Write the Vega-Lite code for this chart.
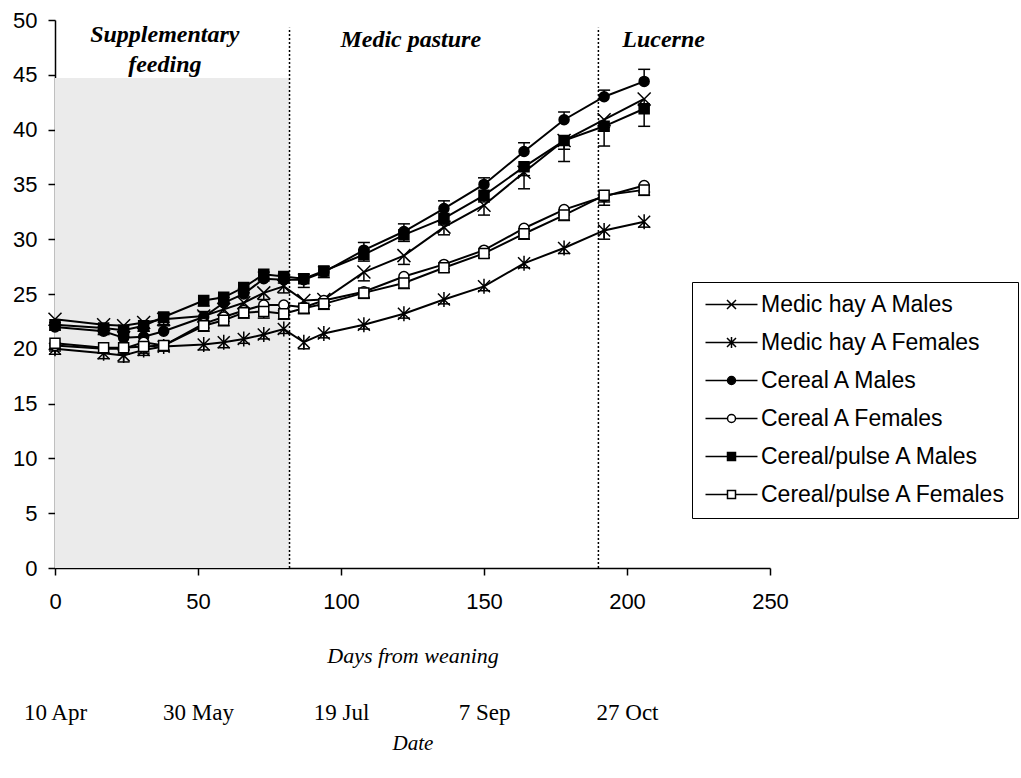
{
  "$schema": "https://vega.github.io/schema/vega-lite/v6.json",
  "width": 715,
  "height": 548,
  "autosize": "none",
  "padding": {"left": 55, "top": 20, "right": 251, "bottom": 210},
  "background": "white",
  "config": {
    "view": {"stroke": null},
    "axis": {"grid": false, "domainColor": "black", "tickColor": "black", "labelColor": "black", "titleColor": "black", "domainWidth": 1.5, "tickWidth": 1.5, "labelFont": "Liberation Sans", "labelFontSize": 22}
  },
  "datasets": {
    "w": [
      {"series": "Medic hay A Males", "day": 0, "weight": 22.7, "errEnd": 22.2},
      {"series": "Medic hay A Males", "day": 17, "weight": 22.2, "errEnd": 21.7},
      {"series": "Medic hay A Males", "day": 24, "weight": 22.1, "errEnd": 21.5},
      {"series": "Medic hay A Males", "day": 31, "weight": 22.4, "errEnd": 21.9},
      {"series": "Medic hay A Males", "day": 38, "weight": 22.7, "errEnd": 22.2},
      {"series": "Medic hay A Males", "day": 52, "weight": 23.0, "errEnd": 22.5},
      {"series": "Medic hay A Males", "day": 59, "weight": 23.6, "errEnd": 23.1},
      {"series": "Medic hay A Males", "day": 66, "weight": 24.2, "errEnd": 23.7},
      {"series": "Medic hay A Males", "day": 73, "weight": 25.1, "errEnd": 24.5},
      {"series": "Medic hay A Males", "day": 80, "weight": 25.7, "errEnd": 25.1},
      {"series": "Medic hay A Males", "day": 87, "weight": 24.4, "errEnd": 23.8},
      {"series": "Medic hay A Males", "day": 94, "weight": 24.5, "errEnd": 23.9},
      {"series": "Medic hay A Males", "day": 108, "weight": 27.0, "errEnd": 26.2},
      {"series": "Medic hay A Males", "day": 122, "weight": 28.5, "errEnd": 27.7},
      {"series": "Medic hay A Males", "day": 136, "weight": 31.1, "errEnd": 30.4},
      {"series": "Medic hay A Males", "day": 150, "weight": 33.1, "errEnd": 32.2},
      {"series": "Medic hay A Males", "day": 164, "weight": 36.1, "errEnd": 34.6},
      {"series": "Medic hay A Males", "day": 178, "weight": 39.0, "errEnd": 38.2},
      {"series": "Medic hay A Males", "day": 192, "weight": 40.9, "errEnd": 40.2},
      {"series": "Medic hay A Males", "day": 206, "weight": 42.8, "errEnd": 42.2},
      {"series": "Medic hay A Females", "day": 0, "weight": 20.0, "errEnd": 19.5},
      {"series": "Medic hay A Females", "day": 17, "weight": 19.6, "errEnd": 19.1},
      {"series": "Medic hay A Females", "day": 24, "weight": 19.4, "errEnd": 18.8},
      {"series": "Medic hay A Females", "day": 31, "weight": 19.9, "errEnd": 19.4},
      {"series": "Medic hay A Females", "day": 38, "weight": 20.2, "errEnd": 19.8},
      {"series": "Medic hay A Females", "day": 52, "weight": 20.4, "errEnd": 19.9},
      {"series": "Medic hay A Females", "day": 59, "weight": 20.6, "errEnd": 20.1},
      {"series": "Medic hay A Females", "day": 66, "weight": 20.9, "errEnd": 20.5},
      {"series": "Medic hay A Females", "day": 73, "weight": 21.3, "errEnd": 20.9},
      {"series": "Medic hay A Females", "day": 80, "weight": 21.8, "errEnd": 21.4},
      {"series": "Medic hay A Females", "day": 87, "weight": 20.6, "errEnd": 20.0},
      {"series": "Medic hay A Females", "day": 94, "weight": 21.4, "errEnd": 21.0},
      {"series": "Medic hay A Females", "day": 108, "weight": 22.2, "errEnd": 21.8},
      {"series": "Medic hay A Females", "day": 122, "weight": 23.2, "errEnd": 22.8},
      {"series": "Medic hay A Females", "day": 136, "weight": 24.5, "errEnd": 24.1},
      {"series": "Medic hay A Females", "day": 150, "weight": 25.7, "errEnd": 25.3},
      {"series": "Medic hay A Females", "day": 164, "weight": 27.8, "errEnd": 27.4},
      {"series": "Medic hay A Females", "day": 178, "weight": 29.2, "errEnd": 28.7},
      {"series": "Medic hay A Females", "day": 192, "weight": 30.8, "errEnd": 30.0},
      {"series": "Medic hay A Females", "day": 206, "weight": 31.6, "errEnd": 31.1},
      {"series": "Cereal A Males", "day": 0, "weight": 22.0, "errEnd": 22.4},
      {"series": "Cereal A Males", "day": 17, "weight": 21.6, "errEnd": 22.0},
      {"series": "Cereal A Males", "day": 24, "weight": 21.0, "errEnd": 21.5},
      {"series": "Cereal A Males", "day": 31, "weight": 21.1, "errEnd": 21.6},
      {"series": "Cereal A Males", "day": 38, "weight": 21.6, "errEnd": 22.1},
      {"series": "Cereal A Males", "day": 52, "weight": 22.9, "errEnd": 23.4},
      {"series": "Cereal A Males", "day": 59, "weight": 24.2, "errEnd": 24.7},
      {"series": "Cereal A Males", "day": 66, "weight": 25.0, "errEnd": 25.5},
      {"series": "Cereal A Males", "day": 73, "weight": 26.4, "errEnd": 27.0},
      {"series": "Cereal A Males", "day": 80, "weight": 26.3, "errEnd": 26.8},
      {"series": "Cereal A Males", "day": 87, "weight": 26.3, "errEnd": 26.8},
      {"series": "Cereal A Males", "day": 94, "weight": 27.0, "errEnd": 27.5},
      {"series": "Cereal A Males", "day": 108, "weight": 29.0, "errEnd": 29.7},
      {"series": "Cereal A Males", "day": 122, "weight": 30.7, "errEnd": 31.4},
      {"series": "Cereal A Males", "day": 136, "weight": 32.8, "errEnd": 33.5},
      {"series": "Cereal A Males", "day": 150, "weight": 35.0, "errEnd": 35.6},
      {"series": "Cereal A Males", "day": 164, "weight": 38.0, "errEnd": 38.8},
      {"series": "Cereal A Males", "day": 178, "weight": 40.9, "errEnd": 41.6},
      {"series": "Cereal A Males", "day": 192, "weight": 43.0, "errEnd": 43.6},
      {"series": "Cereal A Males", "day": 206, "weight": 44.4, "errEnd": 45.5},
      {"series": "Cereal A Females", "day": 0, "weight": 20.3, "errEnd": 19.8},
      {"series": "Cereal A Females", "day": 17, "weight": 20.0, "errEnd": 19.6},
      {"series": "Cereal A Females", "day": 24, "weight": 20.0, "errEnd": 19.5},
      {"series": "Cereal A Females", "day": 31, "weight": 20.6, "errEnd": 20.1},
      {"series": "Cereal A Females", "day": 38, "weight": 20.3, "errEnd": 19.9},
      {"series": "Cereal A Females", "day": 52, "weight": 22.3, "errEnd": 21.9},
      {"series": "Cereal A Females", "day": 59, "weight": 22.9, "errEnd": 22.5},
      {"series": "Cereal A Females", "day": 66, "weight": 23.5, "errEnd": 23.0},
      {"series": "Cereal A Females", "day": 73, "weight": 24.0, "errEnd": 23.4},
      {"series": "Cereal A Females", "day": 80, "weight": 24.0, "errEnd": 23.5},
      {"series": "Cereal A Females", "day": 87, "weight": 23.8, "errEnd": 23.3},
      {"series": "Cereal A Females", "day": 94, "weight": 24.4, "errEnd": 23.9},
      {"series": "Cereal A Females", "day": 108, "weight": 25.2, "errEnd": 24.7},
      {"series": "Cereal A Females", "day": 122, "weight": 26.6, "errEnd": 26.1},
      {"series": "Cereal A Females", "day": 136, "weight": 27.7, "errEnd": 27.3},
      {"series": "Cereal A Females", "day": 150, "weight": 29.0, "errEnd": 28.6},
      {"series": "Cereal A Females", "day": 164, "weight": 31.0, "errEnd": 30.5},
      {"series": "Cereal A Females", "day": 178, "weight": 32.7, "errEnd": 32.2},
      {"series": "Cereal A Females", "day": 192, "weight": 33.9, "errEnd": 33.4},
      {"series": "Cereal A Females", "day": 206, "weight": 34.9, "errEnd": 34.3},
      {"series": "Cereal/pulse A Males", "day": 0, "weight": 22.2, "errEnd": 21.7},
      {"series": "Cereal/pulse A Males", "day": 17, "weight": 21.9, "errEnd": 21.3},
      {"series": "Cereal/pulse A Males", "day": 24, "weight": 21.7, "errEnd": 21.1},
      {"series": "Cereal/pulse A Males", "day": 31, "weight": 22.1, "errEnd": 21.6},
      {"series": "Cereal/pulse A Males", "day": 38, "weight": 22.9, "errEnd": 22.4},
      {"series": "Cereal/pulse A Males", "day": 52, "weight": 24.4, "errEnd": 23.9},
      {"series": "Cereal/pulse A Males", "day": 59, "weight": 24.7, "errEnd": 24.1},
      {"series": "Cereal/pulse A Males", "day": 66, "weight": 25.6, "errEnd": 25.1},
      {"series": "Cereal/pulse A Males", "day": 73, "weight": 26.8, "errEnd": 26.2},
      {"series": "Cereal/pulse A Males", "day": 80, "weight": 26.6, "errEnd": 26.0},
      {"series": "Cereal/pulse A Males", "day": 87, "weight": 26.4, "errEnd": 25.6},
      {"series": "Cereal/pulse A Males", "day": 94, "weight": 27.1, "errEnd": 26.5},
      {"series": "Cereal/pulse A Males", "day": 108, "weight": 28.6, "errEnd": 28.0},
      {"series": "Cereal/pulse A Males", "day": 122, "weight": 30.4, "errEnd": 29.8},
      {"series": "Cereal/pulse A Males", "day": 136, "weight": 31.9, "errEnd": 31.3},
      {"series": "Cereal/pulse A Males", "day": 150, "weight": 34.0, "errEnd": 33.4},
      {"series": "Cereal/pulse A Males", "day": 164, "weight": 36.6, "errEnd": 35.8},
      {"series": "Cereal/pulse A Males", "day": 178, "weight": 39.0, "errEnd": 37.1},
      {"series": "Cereal/pulse A Males", "day": 192, "weight": 40.3, "errEnd": 38.5},
      {"series": "Cereal/pulse A Males", "day": 206, "weight": 41.9, "errEnd": 40.3},
      {"series": "Cereal/pulse A Females", "day": 0, "weight": 20.5, "errEnd": 20.0},
      {"series": "Cereal/pulse A Females", "day": 17, "weight": 20.1, "errEnd": 19.6},
      {"series": "Cereal/pulse A Females", "day": 24, "weight": 20.1, "errEnd": 19.5},
      {"series": "Cereal/pulse A Females", "day": 31, "weight": 20.2, "errEnd": 19.6},
      {"series": "Cereal/pulse A Females", "day": 38, "weight": 20.3, "errEnd": 19.8},
      {"series": "Cereal/pulse A Females", "day": 52, "weight": 22.1, "errEnd": 21.6},
      {"series": "Cereal/pulse A Females", "day": 59, "weight": 22.6, "errEnd": 22.1},
      {"series": "Cereal/pulse A Females", "day": 66, "weight": 23.3, "errEnd": 22.8},
      {"series": "Cereal/pulse A Females", "day": 73, "weight": 23.4, "errEnd": 22.8},
      {"series": "Cereal/pulse A Females", "day": 80, "weight": 23.2, "errEnd": 22.7},
      {"series": "Cereal/pulse A Females", "day": 87, "weight": 23.7, "errEnd": 23.2},
      {"series": "Cereal/pulse A Females", "day": 94, "weight": 24.1, "errEnd": 23.6},
      {"series": "Cereal/pulse A Females", "day": 108, "weight": 25.1, "errEnd": 24.6},
      {"series": "Cereal/pulse A Females", "day": 122, "weight": 26.0, "errEnd": 25.5},
      {"series": "Cereal/pulse A Females", "day": 136, "weight": 27.4, "errEnd": 27.0},
      {"series": "Cereal/pulse A Females", "day": 150, "weight": 28.7, "errEnd": 28.3},
      {"series": "Cereal/pulse A Females", "day": 164, "weight": 30.5, "errEnd": 30.0},
      {"series": "Cereal/pulse A Females", "day": 178, "weight": 32.2, "errEnd": 31.7},
      {"series": "Cereal/pulse A Females", "day": 192, "weight": 34.0, "errEnd": 33.1},
      {"series": "Cereal/pulse A Females", "day": 206, "weight": 34.5, "errEnd": 34.0}
    ]
  },
  "layer": [
    {
      "data": {"values": [{"start": 0, "end": 82, "bottom": 0, "top": 44.7}]},
      "mark": {"type": "rect", "fill": "#ebebeb"},
      "encoding": {
        "x": {"field": "start", "type": "quantitative", "scale": {"domain": [0, 250], "nice": false},
          "axis": {"orient": "bottom", "values": [0, 50, 100, 150, 200, 250], "labelFlush": false, "tickSize": 7, "labelPadding": 16, "title": "Days from weaning", "titleFont": "Liberation Serif", "titleFontStyle": "italic", "titleFontWeight": "normal", "titleFontSize": 22, "titlePadding": 33}},
        "x2": {"field": "end"},
        "y": {"field": "bottom", "type": "quantitative", "scale": {"domain": [0, 50], "nice": false},
          "axis": {"orient": "left", "values": [0, 5, 10, 15, 20, 25, 30, 35, 40, 45, 50], "tickSize": 7, "labelPadding": 11, "title": null}},
        "y2": {"field": "top"}
      }
    },
    {
      "data": {"values": [{"day": 82, "lo": 0, "hi": 49.3}, {"day": 190, "lo": 0, "hi": 49.3}]},
      "mark": {"type": "rule", "color": "black", "strokeWidth": 1.5, "strokeDash": [2, 2]},
      "encoding": {
        "x": {"field": "day", "type": "quantitative",
          "axis": {"orient": "bottom", "values": [0, 50, 100, 150, 200], "labelExpr": "datum.value == 0 ? '10 Apr' : datum.value == 50 ? '30 May' : datum.value == 100 ? '19 Jul' : datum.value == 150 ? '7 Sep' : '27 Oct'", "labelFlush": false, "offset": 133, "domain": false, "ticks": false, "tickSize": 0, "labelPadding": 0, "labelFont": "Liberation Serif", "labelFontSize": 23, "title": "Date", "titleFont": "Liberation Serif", "titleFontStyle": "italic", "titleFontWeight": "normal", "titleFontSize": 21, "titlePadding": 8}},
        "y": {"field": "lo", "type": "quantitative"},
        "y2": {"field": "hi"}
      }
    },
    {
      "data": {"values": [
        {"day": 38.4, "v": 48.6, "t": "Supplementary"},
        {"day": 38.4, "v": 45.9, "t": "feeding"},
        {"day": 124.4, "v": 48.2, "t": "Medic pasture"},
        {"day": 212.8, "v": 48.2, "t": "Lucerne"}
      ]},
      "mark": {"type": "text", "font": "Liberation Serif", "fontStyle": "italic", "fontWeight": "bold", "fontSize": 24, "align": "center", "baseline": "middle", "color": "black"},
      "encoding": {
        "x": {"field": "day", "type": "quantitative", "axis": null},
        "y": {"field": "v", "type": "quantitative"},
        "text": {"field": "t"}
      }
    },
    {
      "data": {"name": "w"},
      "mark": {"type": "rule", "color": "black", "strokeWidth": 1.5},
      "encoding": {
        "x": {"field": "day", "type": "quantitative", "axis": null},
        "y": {"field": "weight", "type": "quantitative"},
        "y2": {"field": "errEnd"}
      }
    },
    {
      "data": {"name": "w"},
      "mark": {"type": "tick", "orient": "horizontal", "size": 12, "thickness": 1.5, "color": "black", "opacity": 1},
      "encoding": {
        "x": {"field": "day", "type": "quantitative", "axis": null},
        "y": {"field": "errEnd", "type": "quantitative"}
      }
    },
    {
      "data": {"name": "w"},
      "mark": {"type": "line", "color": "black", "strokeWidth": 2},
      "encoding": {
        "x": {"field": "day", "type": "quantitative", "axis": null},
        "y": {"field": "weight", "type": "quantitative"},
        "detail": {"field": "series"}
      }
    },
    {
      "data": {"name": "w"},
      "mark": {"type": "point", "stroke": "black", "strokeWidth": 1.5, "size": 100, "opacity": 1},
      "encoding": {
        "x": {"field": "day", "type": "quantitative", "axis": null},
        "y": {"field": "weight", "type": "quantitative"},
        "shape": {"field": "series", "type": "nominal", "legend": null,
          "scale": {"domain": ["Medic hay A Males", "Medic hay A Females", "Cereal A Males", "Cereal A Females", "Cereal/pulse A Males", "Cereal/pulse A Females"],
            "range": ["M-1.3,-1.3L1.3,1.3M-1.3,1.3L1.3,-1.3", "M-1.2,-1.2L1.2,1.2M-1.2,1.2L1.2,-1.2M0,-1.5V1.5", "circle", "circle", "square", "square"]}},
        "fill": {"field": "series", "type": "nominal", "legend": null,
          "scale": {"domain": ["Medic hay A Males", "Medic hay A Females", "Cereal A Males", "Cereal A Females", "Cereal/pulse A Males", "Cereal/pulse A Females"],
            "range": ["black", "black", "black", "white", "black", "white"]}}
      }
    },
    {
      "data": {"name": "w"},
      "mark": {"type": "point", "stroke": "black", "strokeWidth": 1.5, "size": 100, "opacity": 0},
      "encoding": {
        "x": {"field": "day", "type": "quantitative", "axis": null},
        "y": {"field": "weight", "type": "quantitative"},
        "shape": {"field": "series", "type": "nominal",
          "scale": {"domain": ["Medic hay A Males", "Medic hay A Females", "Cereal A Males", "Cereal A Females", "Cereal/pulse A Males", "Cereal/pulse A Females"],
            "range": [
              "M-5.2,0H5.2M-0.9,-0.9L0.9,0.9M-0.9,0.9L0.9,-0.9",
              "M-5.2,0H5.2M-0.9,-0.9L0.9,0.9M-0.9,0.9L0.9,-0.9M0,-1.1V1.1",
              "M-5.2,0H-0.8M0.8,0H5.2M-0.8,0A0.8,0.8,0,1,0,0.8,0A0.8,0.8,0,1,0,-0.8,0Z",
              "M-5.2,0H-0.8M0.8,0H5.2M-0.8,0A0.8,0.8,0,1,0,0.8,0A0.8,0.8,0,1,0,-0.8,0Z",
              "M-5.2,0H-0.8M0.8,0H5.2M-0.8,-0.8H0.8V0.8H-0.8Z",
              "M-5.2,0H-0.8M0.8,0H5.2M-0.8,-0.8H0.8V0.8H-0.8Z"
            ]},
          "legend": {"title": null, "orient": "none", "legendX": 637, "legendY": 262, "strokeColor": "black", "fillColor": "white", "padding": 11, "symbolSize": 100, "symbolOffset": 17, "labelOffset": 18, "labelFont": "Liberation Sans", "labelFontSize": 23, "labelColor": "black", "rowPadding": 14, "symbolOpacity": 1, "symbolStrokeWidth": 1.5, "symbolStrokeColor": "black", "labelLimit": 400,
            "encode": {"symbols": {"update": {"stroke": {"value": "black"}, "strokeWidth": {"value": 1.5}, "opacity": {"value": 1}, "strokeOpacity": {"value": 1}}}}}},
        "fill": {"field": "series", "type": "nominal",
          "scale": {"domain": ["Medic hay A Males", "Medic hay A Females", "Cereal A Males", "Cereal A Females", "Cereal/pulse A Males", "Cereal/pulse A Females"],
            "range": ["black", "black", "black", "white", "black", "white"]},
          "legend": {"title": null, "orient": "none", "legendX": 637, "legendY": 262, "strokeColor": "black", "fillColor": "white", "padding": 11, "symbolSize": 100, "symbolOffset": 17, "labelOffset": 18, "labelFont": "Liberation Sans", "labelFontSize": 23, "labelColor": "black", "rowPadding": 14, "symbolOpacity": 1, "symbolStrokeWidth": 1.5, "symbolStrokeColor": "black", "labelLimit": 400,
            "encode": {"symbols": {"update": {"stroke": {"value": "black"}, "strokeWidth": {"value": 1.5}, "opacity": {"value": 1}, "strokeOpacity": {"value": 1}}}}}}
      }
    }
  ],
  "resolve": {"scale": {"shape": "independent", "fill": "independent"}, "axis": {"x": "independent"}}
}
